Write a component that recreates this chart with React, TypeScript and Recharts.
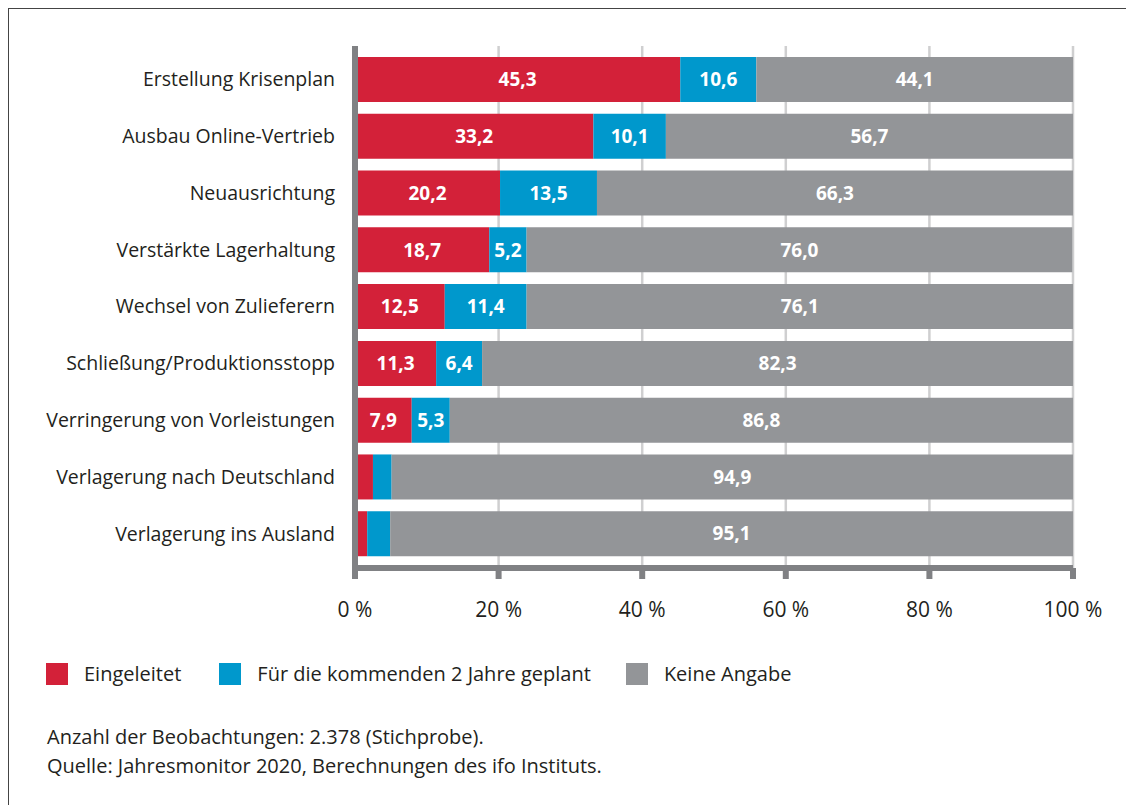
import React from 'react';
import { BarChart, Bar, XAxis, YAxis, CartesianGrid, LabelList } from 'recharts';

const categories = [
  'Erstellung Krisenplan',
  'Ausbau Online-Vertrieb',
  'Neuausrichtung',
  'Verstärkte Lagerhaltung',
  'Wechsel von Zulieferern',
  'Schließung/Produktionsstopp',
  'Verringerung von Vorleistungen',
  'Verlagerung nach Deutschland',
  'Verlagerung ins Ausland',
];
const eingeleitet = [45.3, 33.2, 20.2, 18.7, 12.5, 11.3, 7.9, 2.5, 1.7];
const geplant = [10.6, 10.1, 13.5, 5.2, 11.4, 6.4, 5.3, 2.6, 3.2];
const keineAngabe = [44.1, 56.7, 66.3, 76.0, 76.1, 82.3, 86.8, 94.9, 95.1];
const xTicks = [0, 20, 40, 60, 80, 100];

const series = [
  { key: 'eingeleitet', name: 'Eingeleitet', color: '#d32139' },
  { key: 'geplant', name: 'Für die kommenden 2 Jahre geplant', color: '#0098cc' },
  { key: 'keine', name: 'Keine Angabe', color: '#939598' },
];

const data = categories.map((name, i) => ({
  name,
  eingeleitet: eingeleitet[i],
  geplant: geplant[i],
  keine: keineAngabe[i],
}));

const FONT = '"Open Sans", Lato, sans-serif';
const TEXT = '#231f20';
const AXIS = '#808184';

// deutsche Dezimalschreibweise, kleine Segmente ohne Beschriftung
const fmt = (v: any) => (typeof v === 'number' && v >= 4 ? v.toFixed(1).replace('.', ',') : '');

export default function App() {
  return (
    <div style={{ position: 'relative', width: 1126, height: 797, fontFamily: FONT, color: TEXT }}>
      <div
        style={{
          position: 'absolute', left: 0, top: 0, width: 1126, height: 797,
          borderTop: '1px solid #444', borderLeft: '1px solid #444', boxSizing: 'border-box',
        }}
      />
      <div style={{ position: 'absolute', left: 0, top: 0 }}>
        <BarChart
          width={1126}
          height={640}
          data={data}
          layout="vertical"
          margin={{ top: 38, right: 61, left: 7, bottom: 30 }}
        >
          <CartesianGrid horizontal={false} stroke="#cfcfd0" strokeWidth={2.5} />
          <XAxis
            type="number"
            domain={[0, 100]}
            ticks={xTicks}
            height={50}
            tickFormatter={(v) => `${v} %`}
            axisLine={{ stroke: AXIS, strokeWidth: 6 }}
            tickLine={{ stroke: AXIS, strokeWidth: 6 }}
            tickSize={11}
            tickMargin={23}
            tick={{ fill: TEXT, fontSize: 21, fontFamily: FONT }}
          />
          <YAxis
            type="category"
            dataKey="name"
            width={340}
            padding={{ top: 5, bottom: 6 }}
            axisLine={{ stroke: AXIS, strokeWidth: 6 }}
            tickLine={false}
            tickSize={0}
            tickMargin={20}
            tick={{ fill: TEXT, fontSize: 19.5, fontFamily: FONT }}
          />
          {series.map((s) => (
            <Bar
              key={s.key}
              dataKey={s.key}
              name={s.name}
              stackId="a"
              fill={s.color}
              barSize={45}
              isAnimationActive={false}
            >
              <LabelList
                dataKey={s.key}
                position="center"
                formatter={fmt}
                fill="#ffffff"
                style={{ fontSize: 19, fontWeight: 700, fontFamily: FONT }}
              />
            </Bar>
          ))}
        </BarChart>
      </div>

      {/* Legende */}
      <div style={{ position: 'absolute', left: 38, top: 652, display: 'flex', alignItems: 'center', fontSize: 20 }}>
        {series.map((s, i) => (
          <div key={s.key} style={{ display: 'flex', alignItems: 'center', marginRight: i === 0 ? 38 : 35 }}>
            <span style={{ display: 'inline-block', width: 22, height: 22, background: s.color, marginRight: 16 }} />
            <span>{s.name}</span>
          </div>
        ))}
      </div>

      <div style={{ position: 'absolute', left: 39, top: 714, fontSize: 20, lineHeight: '29px' }}>
        <div>Anzahl der Beobachtungen: 2.378 (Stichprobe).</div>
        <div>Quelle: Jahresmonitor 2020, Berechnungen des ifo Instituts.</div>
      </div>
    </div>
  );
}
